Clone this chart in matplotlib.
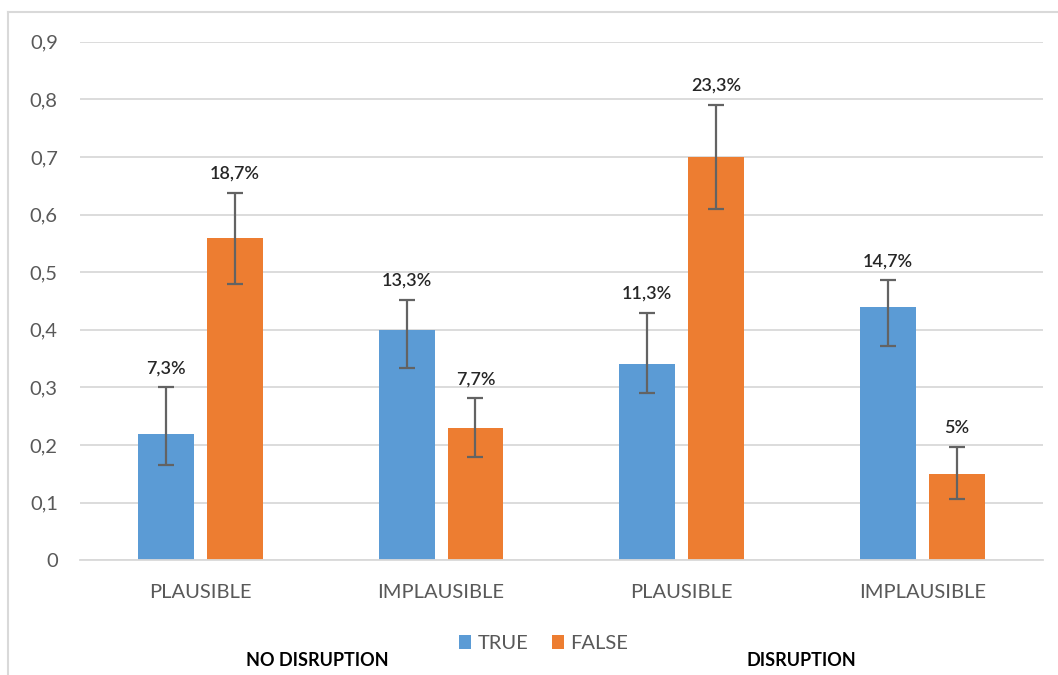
import numpy as np
import matplotlib.pyplot as plt
from matplotlib.lines import Line2D

plt.rcParams['font.family'] = ['Lato', 'DejaVu Sans']

# Dati
categories = ['PLAUSIBLE', 'IMPLAUSIBLE', 'PLAUSIBLE', 'IMPLAUSIBLE']
true_vals = [0.22, 0.40, 0.34, 0.44]
false_vals = [0.56, 0.23, 0.70, 0.15]
true_err_low = [0.165, 0.333, 0.291, 0.372]
true_err_high = [0.300, 0.452, 0.429, 0.486]
false_err_low = [0.479, 0.179, 0.609, 0.107]
false_err_high = [0.638, 0.281, 0.791, 0.196]
true_labels = ['7,3%', '13,3%', '11,3%', '14,7%']
false_labels = ['18,7%', '7,7%', '23,3%', '5%']
group_names = ['NO DISRUPTION', 'DISRUPTION']

blue = '#5b9bd5'
orange = '#ed7d31'
err_col = '#636363'

fig = plt.figure(figsize=(10.58, 6.75), dpi=100)
ax = fig.add_axes([0.0756, 0.170, 0.910, 0.768])

x = np.arange(len(categories))
w = 0.232
off = 0.143

tv = np.array(true_vals)
fv = np.array(false_vals)
t_err = [tv - np.array(true_err_low), np.array(true_err_high) - tv]
f_err = [fv - np.array(false_err_low), np.array(false_err_high) - fv]

ax.bar(x - off, tv, w, color=blue, label='TRUE', zorder=2)
ax.bar(x + off, fv, w, color=orange, label='FALSE', zorder=2)
ax.errorbar(x - off, tv, yerr=t_err, fmt='none', ecolor=err_col,
            elinewidth=1.6, capsize=6, capthick=1.6, zorder=3)
ax.errorbar(x + off, fv, yerr=f_err, fmt='none', ecolor=err_col,
            elinewidth=1.6, capsize=6, capthick=1.6, zorder=3)

for xi, top, lab in zip(x - off, true_err_high, true_labels):
    ax.annotate(lab, (xi, top), xytext=(0, 8), textcoords='offset points',
                ha='center', va='bottom', fontsize=13, fontweight='semibold',
                color='#262626')
for xi, top, lab in zip(x + off, false_err_high, false_labels):
    ax.annotate(lab, (xi, top), xytext=(0, 8), textcoords='offset points',
                ha='center', va='bottom', fontsize=13, fontweight='semibold',
                color='#262626')

ax.set_xlim(-0.5, 3.5)
ax.set_ylim(0, 0.9)
ax.set_yticks(np.arange(0, 0.91, 0.1))
ax.set_yticklabels(['0'] + [f'0,{i}' for i in range(1, 10)])
ax.set_xticks(x)
ax.set_xticklabels(categories)
ax.tick_params(axis='both', length=0, labelsize=14.5, labelcolor='#595959')
ax.tick_params(axis='y', pad=16)
ax.tick_params(axis='x', pad=17)
ax.grid(axis='y', color='#d9d9d9', linewidth=1.3, zorder=0)
ax.set_axisbelow(True)
for s in ['left', 'right', 'top']:
    ax.spines[s].set_visible(False)
ax.spines['bottom'].set_color('#d9d9d9')
ax.spines['bottom'].set_linewidth(1.3)

leg = fig.legend(loc='center', bbox_to_anchor=(0.514, 0.047), ncol=2, frameon=False,
                 fontsize=14.5, handlelength=0.6, handleheight=0.7, columnspacing=1.2,
                 handletextpad=0.3)
for t in leg.get_texts():
    t.set_color('#595959')

fig.text(0.300, 0.022, group_names[0], ha='center', va='center',
         fontsize=13, fontweight='bold', color='black')
fig.text(0.757, 0.022, group_names[1], ha='center', va='center',
         fontsize=13, fontweight='bold', color='black')

# cornice grigia
fig.add_artist(Line2D([8 / 1058, 8 / 1058], [0, 1 - 12 / 675],
                      transform=fig.transFigure, color='#d9d9d9', linewidth=1.5))
fig.add_artist(Line2D([8 / 1058, 1], [1 - 12 / 675, 1 - 12 / 675],
                      transform=fig.transFigure, color='#d9d9d9', linewidth=1.5))

fig.savefig('out.png', dpi=100)
